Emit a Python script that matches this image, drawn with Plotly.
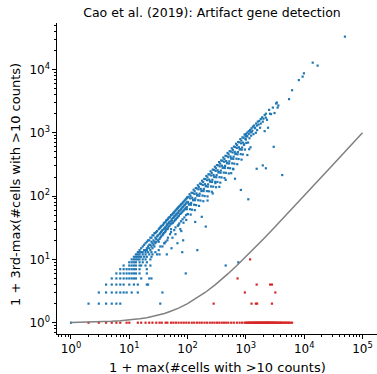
import plotly.graph_objects as go

# ---------------- data ----------------
# low-count genes sitting on integer rows (blue)
blue_grid = [
    (1, 1),
    (2, 2), (3, 2), (4, 2), (5, 2), (6, 2), (7, 2), (34, 2),
    (3, 3), (4, 3), (5, 3), (6, 3), (7, 3), (8, 3), (9, 3), (11, 3), (14, 3), (37, 3),
    (4, 4), (5, 4), (6, 4), (7, 4), (8, 4), (10, 4), (12, 4), (14, 4), (20, 4), (21, 4),
    (5, 5), (6, 5), (7, 5), (8, 5), (9, 5), (10, 5), (11, 5), (12, 5), (13, 5), (16, 5), (22, 5), (24, 5),
    (6, 6), (7, 6), (8, 6), (9, 6), (10, 6), (11, 6), (12, 6), (13, 6), (15, 6), (20, 6), (93, 6),
    (7, 7), (8, 7), (9, 7), (10, 7), (11, 7), (12, 7), (13, 7), (15, 7), (20, 7),
    (8, 8), (10, 8), (11, 8), (12, 8), (13, 8), (15, 8), (16, 8), (19, 8), (23, 8), (450, 8),
    (10, 9), (11, 9), (12, 9), (13, 9), (15, 9), (17, 9), (20, 9), (740, 9),
    (11, 10), (12, 10), (13, 10), (14, 10), (15, 10), (17, 10), (19, 10), (23, 10),
    (12, 11), (13, 11), (14, 11), (15, 11), (16, 11), (18, 11), (20, 11), (24, 11),
    (13, 12), (14, 12), (15, 12), (17, 12), (19, 12), (22, 12), (25, 12), (44, 12),
    (14, 13), (15, 13), (16, 13), (17, 13), (19, 13), (21, 13), (24, 13), (28, 13), (81, 13),
    (147, 14),
]

# diagonal band, x between ~14 and 100
blue_d1 = [
    (15, 14), (16, 15), (17, 16), (18, 14), (18, 17), (19, 14), (19, 18), (20, 15), (20, 19),
    (21, 16), (21, 20), (22, 17), (20, 14), (22, 20), (23, 17), (23, 22), (24, 19), (22, 15),
    (24, 22), (25, 18), (23, 14), (25, 24), (26, 20), (24, 16), (26, 24), (27, 19), (25, 15),
    (27, 26), (28, 22), (26, 17), (28, 26), (29, 21), (27, 16), (29, 27), (30, 23), (28, 18),
    (30, 28), (31, 24), (29, 19), (32, 14), (32, 30), (33, 25), (31, 20), (34, 16), (33, 31),
    (34, 26), (32, 19), (34, 32), (35, 27), (33, 21), (35, 33), (36, 28), (34, 22), (37, 16),
    (36, 34), (37, 29), (35, 23), (38, 35), (39, 30), (37, 24), (40, 18), (39, 37), (40, 31),
    (38, 25), (40, 38), (41, 32), (39, 26), (42, 19), (42, 39), (43, 33), (41, 27), (43, 41),
    (44, 35), (42, 28), (44, 42), (45, 36), (43, 30), (46, 22), (46, 43), (47, 37), (45, 30),
    (47, 45), (48, 38), (46, 31), (48, 46), (49, 39), (47, 33), (50, 25), (50, 47), (51, 40),
    (49, 34), (52, 27), (52, 50), (53, 43), (51, 36), (53, 50), (54, 41), (52, 30), (55, 52),
    (56, 45), (54, 37), (57, 54), (58, 46), (56, 38), (59, 29), (58, 55), (59, 48), (60, 57),
    (61, 49), (59, 40), (62, 32), (62, 59), (63, 51), (61, 42), (64, 61), (65, 52), (63, 43),
    (66, 63), (67, 54), (65, 45), (68, 34), (68, 65), (69, 55), (67, 46), (70, 67), (71, 58),
    (69, 48), (72, 37), (72, 69), (73, 59), (71, 49), (75, 71), (76, 61), (74, 52), (77, 40),
    (77, 74), (78, 63), (76, 53), (80, 76), (81, 66), (79, 55), (82, 43), (83, 79), (84, 68),
    (82, 57), (86, 82), (87, 71), (85, 59), (88, 46), (89, 85), (90, 73), (88, 61), (92, 88),
    (93, 76), (91, 63), (94, 50), (95, 91), (96, 78), (94, 65), (98, 94), (99, 81), (97, 67),
    (100, 52),
    (53, 15), (67, 18), (84, 20), (62, 25), (75, 30), (55, 22), (45, 20), (40, 18), (30, 12),
    (33, 12), (70, 35), (85, 38), (95, 42), (78, 28),
]

# diagonal band, x between ~100 and 1000
blue_d2 = [
    (100, 97), (102, 80), (97, 62), (104, 96), (107, 75), (101, 52), (108, 107), (111, 92),
    (105, 73), (113, 51), (112, 101), (115, 78), (110, 62), (117, 113), (120, 94), (114, 73),
    (122, 112), (125, 88), (119, 61), (127, 126), (131, 108), (124, 86), (133, 60), (132, 119),
    (136, 92), (129, 73), (138, 134), (142, 110), (134, 86), (144, 132), (148, 104), (140, 72),
    (150, 148), (154, 128), (146, 102), (157, 70), (156, 140), (161, 109), (152, 86), (163, 158),
    (168, 130), (159, 101), (170, 156), (175, 122), (166, 85), (177, 175), (182, 150), (173, 120),
    (186, 83), (185, 167), (190, 130), (180, 102), (193, 187), (199, 154), (188, 120), (201, 185),
    (207, 145), (196, 100), (210, 208), (216, 178), (205, 143), (220, 99), (219, 197), (225, 153),
    (214, 120), (228, 221), (235, 182), (222, 141), (238, 219), (245, 171), (232, 119), (248, 246),
    (255, 211), (242, 169), (260, 117), (259, 233), (266, 181), (252, 142), (270, 262), (278, 216),
    (263, 167), (282, 259), (290, 203), (275, 141), (294, 291), (303, 250), (287, 200), (308, 138),
    (306, 275), (315, 214), (298, 168), (319, 309), (328, 255), (311, 198), (333, 306), (343, 240),
    (325, 167), (347, 344), (357, 295), (338, 236), (364, 163), (362, 326), (372, 253), (353, 199),
    (377, 366), (388, 302), (368, 234), (393, 362), (405, 283), (383, 197), (410, 406), (422, 349),
    (400, 279), (430, 193), (428, 385), (440, 300), (417, 235), (446, 433), (459, 357), (435, 277),
    (465, 428), (479, 335), (453, 233), (485, 480), (499, 412), (473, 330), (509, 228), (506, 455),
    (521, 354), (493, 278), (528, 512), (544, 422), (515, 327), (550, 506), (566, 396), (536, 275),
    (574, 568), (591, 488), (560, 390), (602, 270), (598, 538), (616, 419), (583, 329), (624, 605),
    (643, 499), (608, 387), (650, 598), (670, 468), (634, 325), (678, 671), (698, 576), (661, 461),
    (711, 319), (707, 636), (728, 495), (689, 389), (737, 715), (759, 590), (719, 457), (769, 707),
    (792, 554), (750, 385), (802, 794), (826, 682), (782, 545), (842, 377), (836, 752), (861, 585),
    (815, 460), (872, 846), (898, 698), (850, 541), (909, 836), (936, 654), (886, 455), (948, 938),
    (976, 806), (924, 645), (988, 889), (1018, 692), (963, 543),
    (135, 39), (175, 47), (205, 33), (220, 85), (270, 110), (350, 140), (450, 180), (560, 230),
    (610, 265), (650, 188), (820, 125), (300, 160),
]

# band tail, x above 1000
blue_d3 = [
    (1000, 960), (1000, 780), (1030, 870), (1060, 1010), (1060, 890), (1060, 445), (1090, 700),
    (1100, 89), (1120, 1060), (1120, 960), (1140, 550), (1150, 820), (1180, 1110), (1200, 1020),
    (1200, 590), (1230, 900), (1250, 1180), (1250, 1020), (1290, 1080), (1320, 1250), (1350, 950),
    (1380, 1300), (1420, 1200), (1440, 1180), (1480, 1000), (1500, 1400), (1530, 270), (1550, 1300),
    (1560, 1100), (1600, 1500), (1650, 1350), (1700, 1540), (1750, 1200), (1800, 1400), (1800, 1650),
    (1900, 1750), (1950, 1500), (1950, 305), (2000, 1670), (2100, 1060), (2100, 1900), (2200, 1730),
    (2200, 2000), (2200, 275), (2300, 1600), (2400, 1200), (2500, 2300), (2600, 2000), (2700, 1970),
    (2900, 2500), (3000, 600), (3100, 2050), (3300, 2900), (3400, 3000), (3500, 2500), (3600, 2700),
    (4200, 215), (5500, 3400), (6200, 4700), (8100, 6800), (9400, 7700), (9900, 8700),
    (14000, 12800), (17000, 11500), (50000, 33000),
]

# artifact genes (red): third-max count of zero ...
red_floor_x = [
    2, 3, 4, 5, 6, 7, 9, 10, 14, 16, 19, 22, 25, 29, 33, 36, 42, 45, 52, 57, 63, 70, 78, 86,
    95, 105, 118, 130, 145, 160, 175, 195, 215, 240, 265, 290, 320, 350, 385, 420, 460, 500,
    560, 620, 700, 780, 860, 950, 1000, 1040, 1080, 1120, 1150, 1190, 1220, 1260, 1300, 1340,
    1380, 1420, 1450, 1490, 1520, 1560, 1600, 1640, 1680, 1720, 1760, 1800, 1850, 1900, 1950,
    2000, 2050, 2100, 2150, 2200, 2250, 2300, 2350, 2400, 2450, 2500, 2550, 2620, 2700, 2780,
    2850, 2920, 3000, 3100, 3200, 3300, 3400, 3520, 3650, 3800, 3900, 4050, 4200, 4400, 4600,
    4800, 5000, 5250, 5500, 5800, 6200,
]
# ... and a few above the floor but under the threshold
red_above = [
    (1180, 10), (720, 5), (1530, 4), (2600, 4), (2800, 4), (960, 3), (3200, 3),
    (280, 2), (1250, 2), (1480, 2), (1560, 2), (2800, 2),
]

# threshold curve, read at sample points
curve_x = [1, 2, 3, 5, 7, 10, 15, 20, 30, 40, 50, 70, 100, 150, 200, 300, 400, 500, 700,
           1000, 1500, 2000, 3000, 4000, 5000, 7000, 10000, 15000, 20000, 30000, 50000,
           70000, 100000]
curve_y = [1.01, 1.02, 1.03, 1.05, 1.07, 1.1, 1.15, 1.2, 1.3, 1.4, 1.5, 1.7, 2, 2.5, 3, 4,
           5, 6, 8, 11, 16, 21, 31, 41, 51, 71, 101, 151, 201, 301, 501, 701, 1001]

tick_vals = [1, 10, 100, 1000, 10000, 100000]
tick_text = ["10<sup>0</sup>", "10<sup>1</sup>", "10<sup>2</sup>", "10<sup>3</sup>",
             "10<sup>4</sup>", "10<sup>5</sup>"]
minor_vals = [m * 10 ** k for k in range(-1, 6) for m in range(2, 10)]

BLUE = "#1f77b4"
RED = "#d62728"

blue_all = blue_grid + blue_d1 + blue_d2 + blue_d3

fig = go.Figure()
fig.add_trace(go.Scatter(
    x=[p[0] for p in blue_all], y=[p[1] for p in blue_all], mode="markers",
    marker=dict(symbol="square", size=2.2, color=BLUE, line=dict(width=0)),
    showlegend=False, hoverinfo="skip"))
fig.add_trace(go.Scatter(
    x=red_floor_x + [p[0] for p in red_above],
    y=[1] * len(red_floor_x) + [p[1] for p in red_above], mode="markers",
    marker=dict(symbol="square", size=2.2, color=RED, line=dict(width=0)),
    showlegend=False, hoverinfo="skip"))
fig.add_trace(go.Scatter(
    x=curve_x, y=curve_y, mode="lines", line=dict(color="#808080", width=1.5),
    showlegend=False, hoverinfo="skip"))

FONT = "DejaVu Sans"
axis_common = dict(
    type="log", showgrid=False, zeroline=False, showline=True, linecolor="black",
    linewidth=1.2, ticks="outside", ticklen=3.5, tickwidth=1, tickcolor="black",
    tickmode="array", tickvals=tick_vals, ticktext=tick_text,
    tickfont=dict(family=FONT, size=12, color="black"),
    minor=dict(ticks="outside", ticklen=2, tickwidth=0.8, tickcolor="black",
               tickmode="array", tickvals=minor_vals),
)
fig.update_xaxes(range=[-0.24, 5.249], **axis_common)
fig.update_yaxes(range=[-0.1785, 4.734], **axis_common)

fig.update_layout(
    width=377, height=374,
    margin=dict(l=57, r=0, t=23, b=40),
    paper_bgcolor="white", plot_bgcolor="white",
    font=dict(family=FONT, color="black"),
    title=dict(text="Cao et al. (2019): Artifact gene detection",
               font=dict(family=FONT, size=12.5, color="black"),
               x=(212 - 57) / 320, xanchor="center", xref="paper",
               y=1 - 13 / 374, yanchor="middle", yref="container"),
    annotations=[
        dict(text="1 + max(#cells with >10 counts)", xref="paper", yref="paper",
             x=(217.5 - 57) / 320, y=-(367 - 334) / 311, xanchor="center", yanchor="middle",
             showarrow=False, font=dict(family=FONT, size=13, color="black")),
        dict(text="1 + 3rd-max(#cells with >10 counts)", xref="paper", yref="paper",
             x=-(57 - 15) / 320, y=(334 - 185) / 311, xanchor="center", yanchor="middle",
             textangle=-90, showarrow=False,
             font=dict(family=FONT, size=13, color="black")),
    ],
)

fig.write_html("out.html")
